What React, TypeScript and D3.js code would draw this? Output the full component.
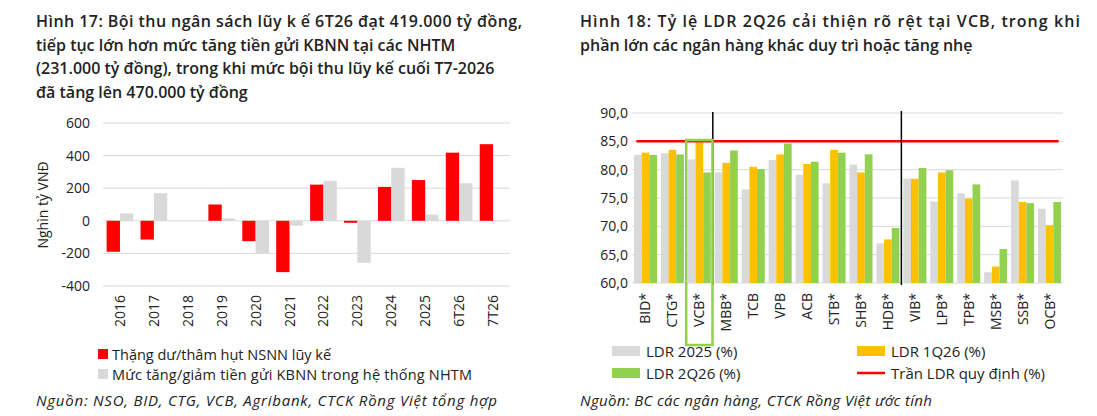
import React from "react";
import * as d3 from "d3";

const leftCats = ["2016","2017","2018","2019","2020","2021","2022","2023","2024","2025","6T26","7T26"];
const surplus = [-190,-115,0,100,-125,-315,222,-12,208,250,418,470];
const deposits = [45,170,0,15,-200,-30,245,-258,325,38,230,0];
const leftTicks = [-400,-200,0,200,400,600];

const banks = ["BID*","CTG*","VCB*","MBB*","TCB","VPB","ACB","STB*","SHB*","HDB*","VIB*","LPB*","TPB*","MSB*","SSB*","OCB*"];
const ldr2025 = [82.6,82.9,81.8,79.5,76.5,81.7,79.1,77.6,80.9,67.0,78.4,74.4,75.8,61.9,78.1,73.1];
const ldr1q26 = [83.0,83.5,84.8,81.2,80.5,82.7,81.0,83.5,79.5,67.7,78.4,79.5,74.9,62.9,74.3,70.2];
const ldr2q26 = [82.6,82.7,79.5,83.4,80.1,84.6,81.4,83.0,82.7,69.7,80.3,79.9,77.4,66.0,74.1,74.3];
const rightTicks = [60,65,70,75,80,85,90];
const cap = 85;

const F = "'Open Sans', 'Noto Sans', sans-serif";

export default function App() {
  const lx = d3.scaleBand().domain(leftCats).range([103, 510]).paddingInner(0.12).paddingOuter(0.06);
  const ly = d3.scaleLinear().domain([-400, 600]).range([286, 123]);
  const lbw = lx.bandwidth();
  const inner = d3.scaleBand().domain(["a","b"]).range([0, lbw]).paddingInner(0).paddingOuter(0.12);

  const rx = d3.scaleBand().domain(banks).range([632, 1063]).paddingInner(0.1).paddingOuter(0.05);
  const ry = d3.scaleLinear().domain([60, 90]).range([283, 113]);
  const rin = d3.scaleBand().domain(["a","b","c"]).range([0, rx.bandwidth()]).paddingOuter(0.08);
  const sepX = (i: number) => (rx(banks[i])! + rx(banks[i - 1])! + rx.bandwidth()) / 2;

  const titleL = ["Hình 17: Bội thu ngân sách lũy k ế 6T26 đạt 419.000 tỷ đồng,","tiếp tục lớn hơn mức tăng tiền gửi KBNN tại các NHTM","(231.000 tỷ đồng), trong khi mức bội thu lũy kế cuối T7-2026","đã tăng lên 470.000 tỷ đồng"];
  const titleR = ["Hình 18: Tỷ lệ LDR 2Q26 cải thiện rõ rệt tại VCB, trong khi","phần lớn các ngân hàng khác duy trì hoặc tăng nhẹ"];

  return (
    <svg width={1097} height={416} style={{ position: "absolute", left: 0, top: 0, fontFamily: F }}>
      <rect width={1097} height={416} fill="#fff" />
      {titleL.map((t, i) => (
        <text key={i} x={36} y={27 + i * 23.5} fontSize={16} fontWeight={600} fill="#222" textLength={i === 0 ? 486 : undefined}>{t}</text>
      ))}
      {titleR.map((t, i) => (
        <text key={i} x={580} y={27 + i * 23.5} fontSize={16} fontWeight={600} fill="#222" textLength={i === 0 ? 500 : undefined}>{t}</text>
      ))}

      {leftTicks.map(t => (
        <g key={t}>
          <line x1={103} x2={510} y1={ly(t)} y2={ly(t)} stroke="#d9d9d9" />
          <text x={90} y={ly(t) + 5} fontSize={14} textAnchor="end" fill="#222">{t}</text>
        </g>
      ))}
      <text transform={`translate(48,205) rotate(-90)`} fontSize={14} textAnchor="middle" fill="#222">Nghìn tỷ VNĐ</text>
      {leftCats.map((c, i) => (
        <g key={c}>
          <rect x={lx(c)! + inner("a")!} width={inner.bandwidth()} y={Math.min(ly(surplus[i]), ly(0))} height={Math.abs(ly(surplus[i]) - ly(0))} fill="#ff0000" />
          <rect x={lx(c)! + inner("b")!} width={inner.bandwidth()} y={Math.min(ly(deposits[i]), ly(0))} height={Math.abs(ly(deposits[i]) - ly(0))} fill="#d9d9d9" />
          <text transform={`translate(${lx(c)! + lbw / 2 + 5},${295}) rotate(-90)`} fontSize={14} textAnchor="end" fill="#222">{c}</text>
        </g>
      ))}
      <rect x={98} y={349} width={10} height={10} fill="#ff0000" />
      <text x={112} y={360} fontSize={14.5} fill="#222">Thặng dư/thâm hụt NSNN lũy kế</text>
      <rect x={98} y={369} width={10} height={10} fill="#d9d9d9" />
      <text x={112} y={380} fontSize={14.5} fill="#222" textLength={360}>Mức tăng/giảm tiền gửi KBNN trong hệ thống NHTM</text>
      <text x={36} y={406} fontSize={15} fontStyle="italic" fill="#222" textLength={461}>Nguồn: NSO, BID, CTG, VCB, Agribank, CTCK Rồng Việt tổng hợp</text>

      {rightTicks.map(t => (
        <g key={t}>
          <line x1={632} x2={1063} y1={ry(t)} y2={ry(t)} stroke="#d9d9d9" />
          <text x={628} y={ry(t) + 5} fontSize={14} textAnchor="end" fill="#222">{t.toFixed(1).replace(".", ",")}</text>
        </g>
      ))}
      {banks.map((b, i) => {
        const x0 = rx(b)!;
        const vals = [ldr2025[i], ldr1q26[i], ldr2q26[i]];
        const cols = ["#d9d9d9", "#ffc000", "#92d050"];
        return (
          <g key={b}>
            {vals.map((v, j) => (
              <rect key={j} x={x0 + rin(["a","b","c"][j])!} width={rin.bandwidth()} y={ry(v)} height={ry(60) - ry(v)} fill={cols[j]} />
            ))}
            <text transform={`translate(${x0 + rx.bandwidth() / 2 + 5},${293}) rotate(-90)`} fontSize={14} textAnchor="end" fill="#222">{b}</text>
          </g>
        );
      })}
      <line x1={rx(banks[0])! + 3} x2={rx(banks[15])! + rx.bandwidth() - 3} y1={ry(cap)} y2={ry(cap)} stroke="#ff0000" strokeWidth={2.5} />
      <line x1={sepX(3)} x2={sepX(3)} y1={112} y2={285} stroke="#000" strokeWidth={1.5} />
      <line x1={sepX(10)} x2={sepX(10)} y1={111} y2={285} stroke="#000" strokeWidth={1.5} />
      <rect x={rx(banks[2])! - 1} y={140} width={rx.bandwidth() + 2} height={205} fill="none" stroke="#92d050" strokeWidth={2.5} />
      <rect x={612} y={346} width={28} height={10} fill="#d9d9d9" />
      <text x={646} y={357} fontSize={15} fill="#222">LDR 2025 (%)</text>
      <rect x={857} y={346} width={28} height={10} fill="#ffc000" />
      <text x={891} y={357} fontSize={15} fill="#222">LDR 1Q26 (%)</text>
      <rect x={612} y={368} width={28} height={10} fill="#92d050" />
      <text x={646} y={379} fontSize={15} fill="#222">LDR 2Q26 (%)</text>
      <line x1={857} x2={885} y1={373} y2={373} stroke="#ff0000" strokeWidth={2.5} />
      <text x={891} y={379} fontSize={15} fill="#222">Trần LDR quy định (%)</text>
      <text x={580} y={406} fontSize={15} fontStyle="italic" fill="#222" textLength={352}>Nguồn: BC các ngân hàng, CTCK Rồng Việt ước tính</text>
    </svg>
  );
}
